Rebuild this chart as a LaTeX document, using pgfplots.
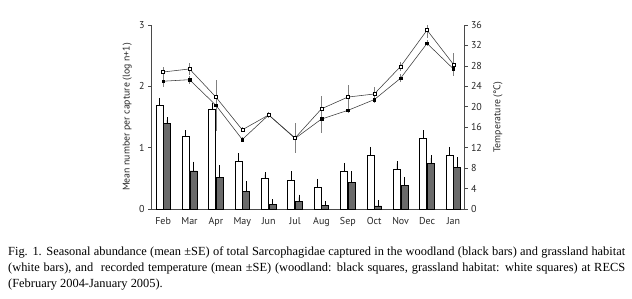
\documentclass[border=0pt]{standalone}
\usepackage{fontspec}
\setmainfont{Liberation Serif}
\newfontfamily\sff{PT Sans}
\usepackage{pgfplots}
\usepackage{pgfplotstable}
\pgfplotsset{compat=1.18}
\definecolor{axgray}{HTML}{4A4A4A}
\definecolor{bargray}{HTML}{6A6A6A}
\definecolor{linegray}{HTML}{3A3A3A}
\definecolor{errgray}{HTML}{808080}

\pgfplotstableread{
x   w     we    g     ge
0   1.69  0.08  1.40  0.05
1   1.18  0.06  0.62  0.11
2   1.63  0.06  0.52  0.15
3   0.78  0.09  0.29  0.12
4   0.50  0.06  0.08  0.04
5   0.46  0.11  0.12  0.07
6   0.36  0.09  0.055 0.035
7   0.61  0.10  0.44  0.13
8   0.87  0.10  0.05  0.05
9   0.64  0.10  0.39  0.09
10  1.15  0.09  0.74  0.09
11  0.87  0.10  0.68  0.12
}\bars

\pgfplotstableread{
x   tg    tge   tw    twe
0   26.8  1.0   25.0  1.2
1   27.4  1.2   25.3  0.8
2   21.9  0.5   20.3  5.0
3   15.5  0.5   13.6  0.5
4   18.4  0.6   18.4  0.6
5   13.9  2.9   13.8  0.5
6   19.6  2.5   17.6  2.7
7   21.9  2.4   19.3  0.6
8   22.5  1.3   21.4  0.6
9   27.9  0.9   25.6  0.8
10  35.0  1.5   32.4  0.6
11  28.3  2.3   27.4  0.6
}\temps

\begin{document}
\begin{tikzpicture}
\path[use as bounding box] (0,0) rectangle (632pt,298pt);

\pgfplotsset{
  common/.style={
    scale only axis, width=312.5pt, height=184pt,
    at={(151.5pt,89pt)}, anchor=south west,
    xmin=-0.44, xmax=11.4,
    axis line style={axgray, line width=0.6pt, -},
    tick style={axgray, line width=0.6pt},
    tick align=outside,
    major tick length=3.5pt,
    tick label style={font=\sff\fontsize{10}{11}\selectfont, text=black!85},
    label style={font=\sff\fontsize{9.8}{11}\selectfont, text=black!85},
    /pgf/number format/assume math mode=true,
  }
}

% left axis: bars
\begin{axis}[common,
  axis x line*=bottom, axis y line*=left,
  ymin=0, ymax=3, ytick={0,1,2,3},
  xtick={0,...,11},
  xticklabels={Feb,Mar,Apr,May,Jun,Jul,Aug,Sep,Oct,Nov,Dec,Jan},
  minor xtick={0.5,1.5,...,10.5},
  xtick style={draw=none},
  minor tick length=4pt,
  minor x tick style={axgray, line width=0.6pt},
  xticklabel style={yshift=-1pt},
  ylabel={Mean number per capture (log n+1)},
  ylabel style={at={(axis description cs:-0.078,0.5)}, anchor=center, rotate=0},
]
\addplot[ybar, bar width=7pt, bar shift=0pt, fill=white, draw=black, line width=0.6pt,
  error bars/.cd, y dir=plus, y explicit,
  error bar style={black, line width=0.6pt},
  error mark options={black, mark size=2.6pt, line width=0.6pt}]
  table[x expr=\thisrow{x}-0.144, y=w, y error=we] {\bars};
\addplot[ybar, bar width=7pt, bar shift=0pt, fill=bargray, draw=black, line width=0.6pt,
  error bars/.cd, y dir=plus, y explicit,
  error bar style={black, line width=0.6pt},
  error mark options={black, mark size=2.6pt, line width=0.6pt}]
  table[x expr=\thisrow{x}+0.144, y=g, y error=ge] {\bars};
\end{axis}

% right axis: temperature
\begin{axis}[common,
  axis x line=none, axis y line*=right,
  ymin=0, ymax=36, ytick={0,4,...,36},
  ylabel={Temperature (\textdegree C)},
  ylabel style={at={(axis description cs:1.109,0.5)}, anchor=center, rotate=0},
]
\addplot[linegray, line width=0.55pt, mark=square*, mark size=1.3pt,
  mark options={fill=black, draw=black},
  error bars/.cd, y dir=both, y explicit, error mark=none,
  error bar style={errgray, line width=0.7pt}]
  table[x=x, y=tw, y error=twe] {\temps};
\addplot[linegray, line width=0.55pt, mark=square*, mark size=1.5pt,
  mark options={fill=white, draw=black, line width=0.5pt},
  error bars/.cd, y dir=both, y explicit, error mark=none,
  error bar style={errgray, line width=0.7pt}]
  table[x=x, y=tg, y error=tge] {\temps};
\end{axis}

\node[anchor=north west, inner sep=0pt, text width=617pt, align=justify,
  font=\fontsize{12.4}{16}\selectfont] at (8pt,51pt)
  {Fig. 1. Seasonal abundance (mean ±SE) of total Sarcophagidae captured in the woodland (black bars) and grassland habitat\linebreak
  (white bars), and\ \ recorded temperature (mean ±SE) (woodland: black squares, grassland habitat: white squares) at RECS\linebreak
  (February 2004-January 2005).};
\end{tikzpicture}
\end{document}
